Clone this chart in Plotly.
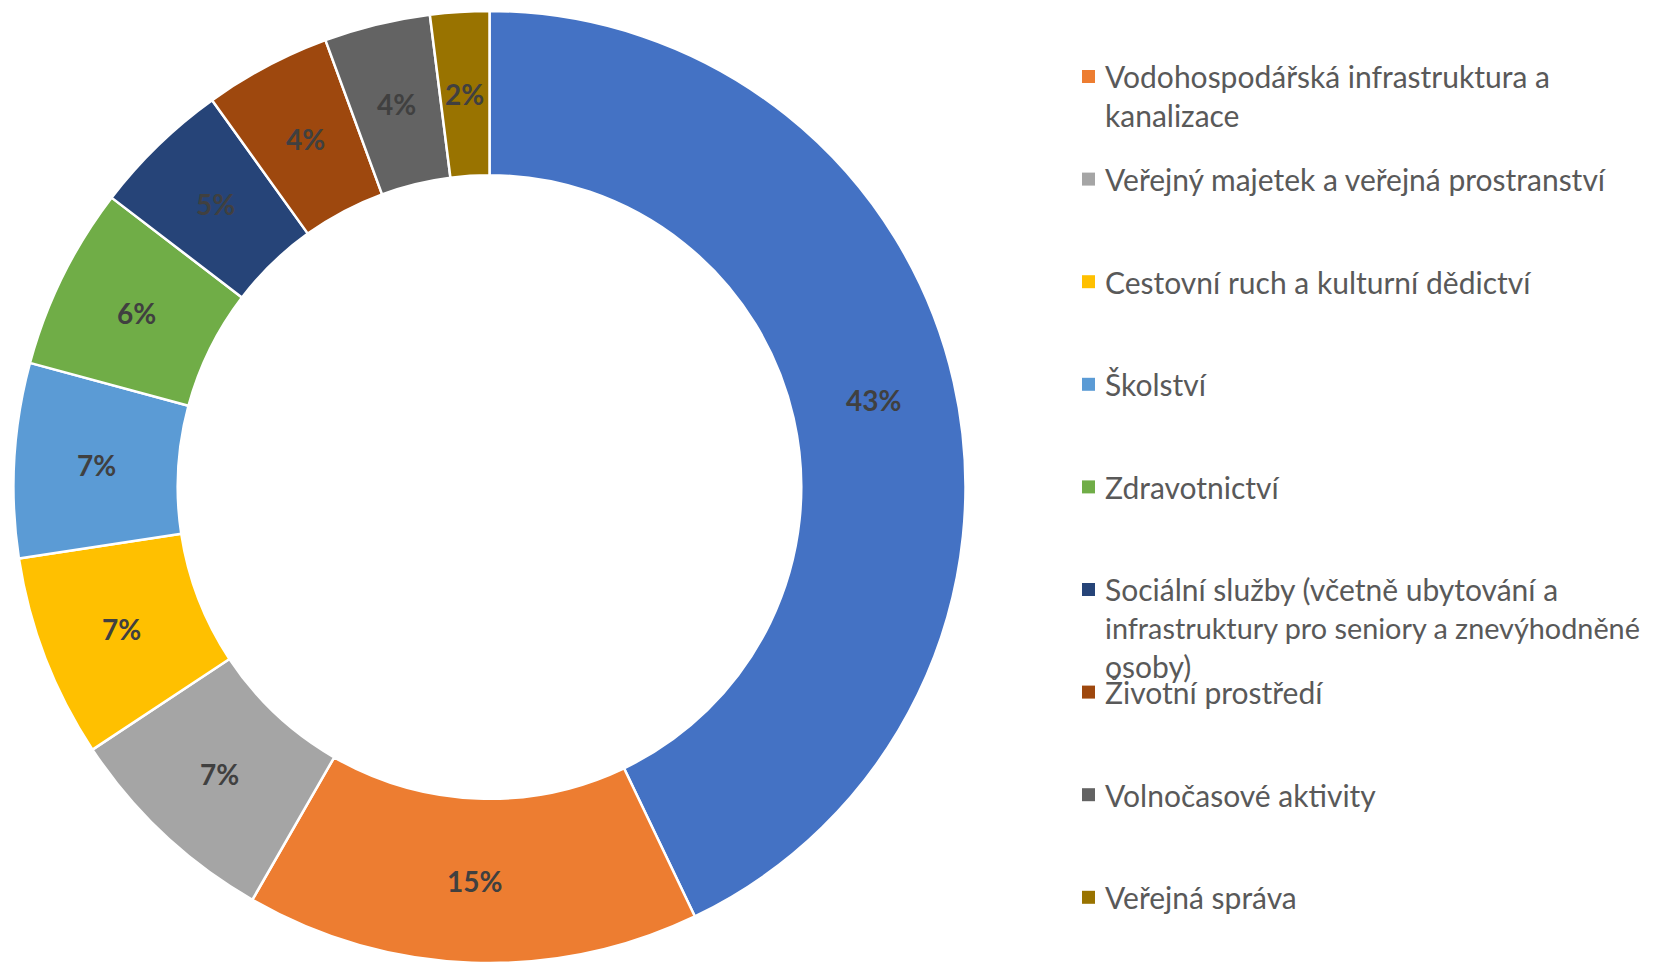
import math
import plotly.graph_objects as go

W, H = 1665, 962

# data
labels = ['Dopravní infrastruktura',
          'Vodohospodářská infrastruktura a kanalizace',
          'Veřejný majetek a veřejná prostranství',
          'Cestovní ruch a kulturní dědictví',
          'Školství',
          'Zdravotnictví',
          'Sociální služby (včetně ubytování a infrastruktury pro seniory a znevýhodněné osoby)',
          'Životní prostředí',
          'Volnočasové aktivity',
          'Veřejná správa']
values = [42.9, 15.4, 7.4, 6.9, 6.6, 6.2, 4.7, 4.3, 3.6, 2.0]
colors = ['#4472C4', '#ED7D31', '#A5A5A5', '#FFC000', '#5B9BD5',
          '#70AD47', '#264478', '#9E480E', '#636363', '#997300']
# legend text as wrapped in the picture (first entry is cut off at the top)
legend_lines = [
    ['Dopravní infrastruktura'],
    ['Vodohospodářská infrastruktura a', 'kanalizace'],
    ['Veřejný majetek a veřejná prostranství'],
    ['Cestovní ruch a kulturní dědictví'],
    ['Školství'],
    ['Zdravotnictví'],
    ['Sociální služby (včetně ubytování a', 'infrastruktury pro seniory a znevýhodněné', 'osoby)'],
    ['Životní prostředí'],
    ['Volnočasové aktivity'],
    ['Veřejná správa'],
]

HOLE = 0.655
dom_x = [5 / W, 958 / W]
dom_y = [7 / H, 959 / H]

fig = go.Figure(go.Pie(
    labels=labels,
    values=values,
    hole=HOLE,
    sort=False,
    direction='clockwise',
    rotation=0,
    marker=dict(colors=colors, line=dict(color='white', width=2.5)),
    textinfo='none',
    showlegend=False,
    domain=dict(x=dom_x, y=dom_y),
))

annotations = []
shapes = []

# percent labels in the middle of the ring (like Excel does)
cx = (dom_x[0] + dom_x[1]) / 2 * W
cy = (1 - (dom_y[0] + dom_y[1]) / 2) * H
R = min((dom_x[1] - dom_x[0]) * W, (dom_y[1] - dom_y[0]) * H) / 2
r_mid = R * (1 + HOLE) / 2
total = sum(values)
cum = 0
for v in values:
    th = 2 * math.pi * (cum + v / 2) / total
    cum += v
    px_ = cx + r_mid * math.sin(th)
    py_ = cy - r_mid * math.cos(th)
    annotations.append(dict(text='<b>%d%%</b>' % round(v / total * 100),
                            xref='paper', yref='paper', x=px_ / W, y=1 - py_ / H,
                            xanchor='center', yanchor='middle', showarrow=False,
                            font=dict(family='Lato', size=28, color='#404040')))

# manual legend, Excel-style even spacing
step = 102.6
y0 = 68.5 - step
for i, lines in enumerate(legend_lines):
    yc = y0 + i * step
    if yc < 0:
        continue
    shapes.append(dict(type='rect', xref='paper', yref='paper',
                       x0=1074 / W, x1=1087 / W,
                       y0=1 - (yc + 6.5) / H, y1=1 - (yc - 6.5) / H,
                       fillcolor=colors[i], line=dict(width=0)))
    for j, line in enumerate(lines):
        # the longest line sits right at the edge, keep it just inside
        fsize = 28.8 if len(line) > 40 else 30
        annotations.append(dict(text=line, xref='paper', yref='paper',
                                x=1095 / W, y=1 - (yc + j * 38.2) / H,
                                xanchor='left', yanchor='middle', showarrow=False,
                                font=dict(family='Lato', size=fsize, color='#595959')))

fig.update_layout(
    width=W, height=H,
    margin=dict(l=0, r=0, t=0, b=0),
    paper_bgcolor='white',
    plot_bgcolor='white',
    shapes=shapes,
    annotations=annotations,
)
fig.write_html("out.html")
